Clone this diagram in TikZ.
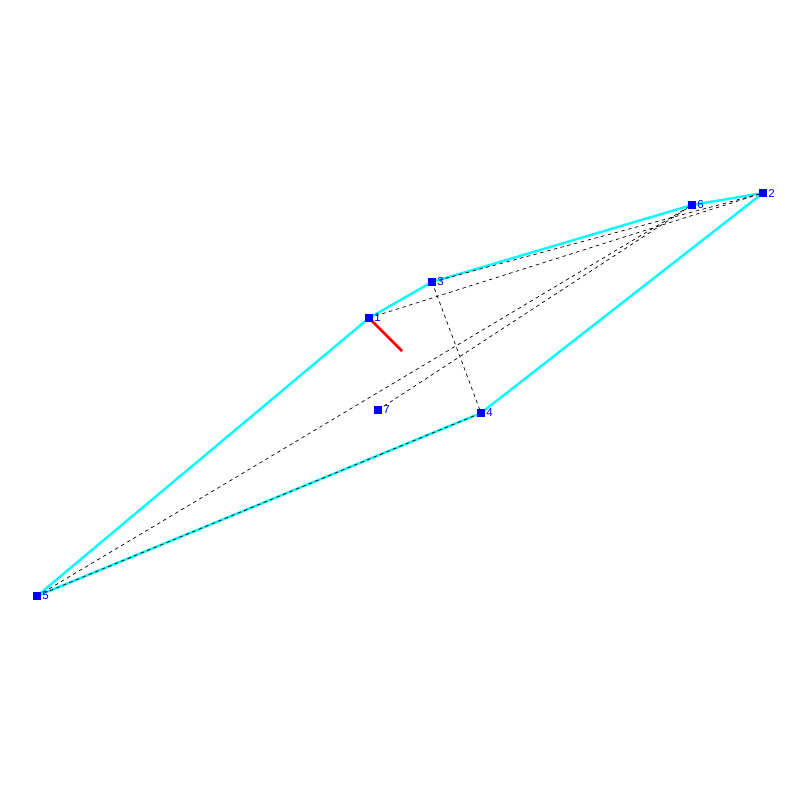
\documentclass[tikz,border=0pt]{standalone}
\usepackage{fontspec}
\setmainfont{Liberation Sans}
\usetikzlibrary{positioning}
\definecolor{meshcyan}{RGB}{0,255,255}
\definecolor{ptblue}{RGB}{0,0,255}
\definecolor{nred}{RGB}{255,0,0}

\begin{document}
\begin{tikzpicture}[
        x=1pt, y=-1pt,
        node distance=1.2pt,
        pt/.style={
            rectangle,
            fill=ptblue,
            inner sep=0pt,
            minimum size=7.5pt
        },
        lbl/.style={
            inner sep=0pt,
            text=ptblue,
            font=\fontsize{11.5}{12}\selectfont
        },
        edge/.style={meshcyan, line width=2.4pt},
        hidden/.style={black, line width=0.7pt, dash pattern=on 3.5pt off 3.5pt},
        normal/.style={nred, line width=2.6pt}
    ]

        \useasboundingbox (0,0) rectangle (800,800);

        % mesh vertices
        \node[pt] (p1) at (369,318) {};
        \node[pt] (p2) at (763,193) {};
        \node[pt] (p3) at (432,282) {};
        \node[pt] (p4) at (481,413) {};
        \node[pt] (p5) at (37,596) {};
        \node[pt] (p6) at (692,205) {};
        \node[pt] (p7) at (378,410) {};
        \coordinate (n1) at (402,351);

        % outline
        \draw[edge] (p5.center) -- (p1.center) -- (p3.center) -- (p6.center) -- (p2.center) -- (p4.center) -- (p5.center);

        % hidden edges
        \draw[hidden] (p1.center) -- (p2.center);
        \draw[hidden] (p3.center) -- (p2.center);
        \draw[hidden] (p3.center) -- (p4.center);
        \draw[hidden] (p5.center) -- (p6.center);
        \draw[hidden] (p7.center) -- (p6.center);
        \draw[hidden] (p5.center) -- (p4.center);

        % normal
        \draw[normal] (p1.center) -- (n1);

        % redraw vertices on top
        \foreach \i in {1,...,7} {
            \node[pt] at (p\i) {};
            \node[lbl, right=of p\i] (l\i) {\i};
        }

    \end{tikzpicture}
\end{document}
